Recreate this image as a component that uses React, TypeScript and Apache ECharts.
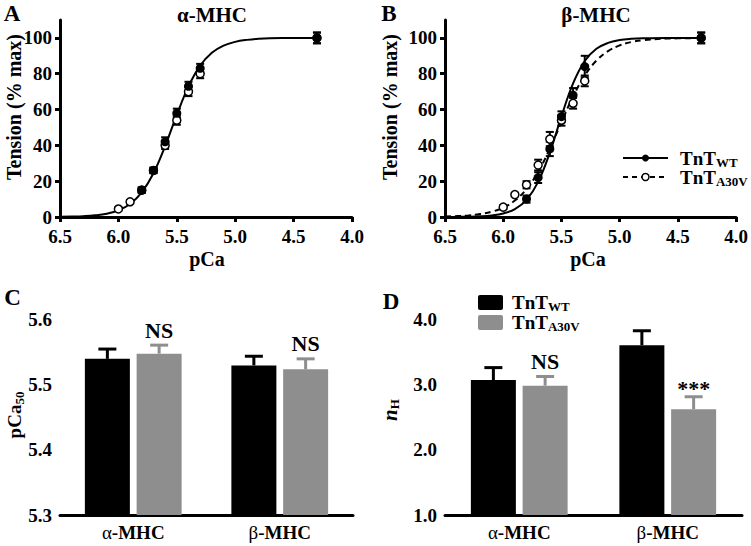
import React, { useEffect, useRef } from 'react';
import * as echarts from 'echarts';

const FONT = "'Liberation Serif', 'Times New Roman', serif";
const GRAY = '#8e8e8e';

// ---------- Panels A / B : force–pCa data ----------
const TENSION_TICKS = [0, 20, 40, 60, 80, 100];

const alphaWtPCa = [5.8, 5.7, 5.6, 5.5, 5.4, 5.3, 4.3];
const alphaWtTension = [15, 26, 42, 58, 73, 83, 100];
const alphaWtSem = [1.5, 1.5, 2.5, 2.5, 2.5, 2.5, 3];

const alphaMutPCa = [6.0, 5.9, 5.8, 5.7, 5.6, 5.5, 5.4, 5.3, 4.3];
const alphaMutTension = [4.5, 8.5, 15, 26, 40, 54, 70, 80, 100];
const alphaMutSem = [0.8, 1, 1.5, 1.5, 2, 2.5, 2.5, 2.5, 3];

const betaWtPCa = [5.8, 5.7, 5.6, 5.5, 5.4, 5.3, 4.3];
const betaWtTension = [10, 22, 38, 56, 68, 84, 100];
const betaWtSem = [2, 3, 4, 3, 4, 6, 3];

const betaMutPCa = [6.0, 5.9, 5.8, 5.7, 5.6, 5.5, 5.4, 5.3, 4.3];
const betaMutTension = [5.5, 12.5, 18, 29, 43.5, 54, 63.5, 76, 100];
const betaMutSem = [1, 1, 2, 3, 4, 3, 3, 3, 3];

// fitted curves
const curvePCa = [6.5, 6.4, 6.3, 6.2, 6.1, 6.0, 5.9, 5.8, 5.7, 5.6, 5.5, 5.4, 5.3, 5.2, 5.1, 5.0, 4.9, 4.8, 4.6, 4.3];
const alphaFit = [0.11, 0.23, 0.46, 0.93, 1.87, 3.73, 7.3, 13.7, 24.4, 39.6, 57.0, 72.9, 84.5, 91.7, 95.7, 97.8, 98.9, 99.5, 99.9, 100];
const betaWtFit = [0.03, 0.07, 0.17, 0.39, 0.88, 1.99, 4.4, 9.6, 19.6, 35.9, 56.2, 74.6, 87.1, 93.9, 97.2, 98.8, 99.5, 99.8, 100, 100];
const betaMutFit = [0.27, 0.49, 0.9, 1.63, 2.93, 5.2, 9.2, 15.6, 25.2, 38.1, 53.0, 67.3, 79.0, 87.3, 92.6, 95.8, 97.7, 98.7, 99.6, 99.9];

// ---------- Panels C / D : bar summaries ----------
const groups = ['α-MHC', 'β-MHC'];
const pCa50Wt = [5.539, 5.529];
const pCa50WtSem = [0.015, 0.014];
const pCa50Mut = [5.547, 5.523];
const pCa50MutSem = [0.013, 0.016];
const pCa50Sig = ['NS', 'NS'];

const nHWt = [3.066, 3.6];
const nHWtSem = [0.19, 0.22];
const nHMut = [2.98, 2.62];
const nHMutSem = [0.14, 0.19];
const nHSig = ['NS', '***'];

const BAR_W = 45;
const BAR_GAP = 0.15;

const axisLine = { lineStyle: { color: '#000', width: 3 } };
const axisTick = { length: 5, lineStyle: { color: '#000', width: 3 } };
const labelStyle = { color: '#000', fontSize: 19, fontWeight: 'bold' as const, fontFamily: FONT };

const pairs = (xs: number[], ys: number[]) => xs.map((x, i) => [x, ys[i]]);

function scatterErr(idx: number, xs: number[], ys: number[], es: number[]) {
  return {
    type: 'custom',
    xAxisIndex: idx,
    yAxisIndex: idx,
    z: 3,
    silent: true,
    data: xs.map((x, i) => [x, ys[i], es[i]]),
    renderItem: (params: any, api: any) => {
      const x = api.value(0);
      const y = api.value(1);
      const e = api.value(2);
      const lo = api.coord([x, y - e]);
      const hi = api.coord([x, y + e]);
      const cx = lo[0];
      const st = { stroke: '#000', lineWidth: 2 };
      return {
        type: 'group',
        children: [
          { type: 'line', shape: { x1: cx, y1: lo[1], x2: cx, y2: hi[1] }, style: st },
          { type: 'line', shape: { x1: cx - 4, y1: lo[1], x2: cx + 4, y2: lo[1] }, style: st },
          { type: 'line', shape: { x1: cx - 4, y1: hi[1], x2: cx + 4, y2: hi[1] }, style: st },
        ],
      };
    },
  };
}

function barErr(idx: number, vals: number[], sems: number[], color: string, side: number, sig?: string[]) {
  const offset = side * (BAR_W * (1 + BAR_GAP)) / 2;
  return {
    type: 'custom',
    xAxisIndex: idx,
    yAxisIndex: idx,
    z: 4,
    silent: true,
    data: vals.map((v, i) => [i, v, sems[i]]),
    renderItem: (params: any, api: any) => {
      const i = api.value(0);
      const v = api.value(1);
      const s = api.value(2);
      const base = api.coord([i, v]);
      const top = api.coord([i, v + s]);
      const x = base[0] + offset;
      const st = { stroke: color, lineWidth: 3 };
      const children: any[] = [
        { type: 'line', shape: { x1: x, y1: base[1], x2: x, y2: top[1] }, style: st },
        { type: 'line', shape: { x1: x - 9, y1: top[1], x2: x + 9, y2: top[1] }, style: st },
      ];
      const lab = sig ? sig[params.dataIndex] : '';
      if (lab) {
        const gap = lab === '***' ? -3 : 4;
        children.push({
          type: 'text',
          x,
          y: top[1] - gap,
          style: {
            text: lab,
            fill: '#000',
            fontSize: 22,
            fontWeight: 'bold',
            fontFamily: FONT,
            align: 'center',
            verticalAlign: 'bottom',
            textAlign: 'center',
            textVerticalAlign: 'bottom',
          },
        });
      }
      return { type: 'group', children };
    },
  };
}

const subRich = {
  b: { fontSize: 19, fontWeight: 'bold', fontFamily: FONT, fill: '#000', color: '#000', lineHeight: 22 },
  s: { fontSize: 13, fontWeight: 'bold', fontFamily: FONT, fill: '#000', color: '#000', lineHeight: 22, padding: [9, 0, 0, 0], verticalAlign: 'bottom' },
  i: { fontSize: 21, fontWeight: 'bold', fontStyle: 'italic', fontFamily: FONT, fill: '#000', color: '#000', lineHeight: 22 },
};

function txt(text: string, x: number, y: number, size: number, extra: any = {}) {
  return {
    type: 'text',
    x,
    y,
    silent: true,
    ...extra,
    style: {
      text,
      fill: '#000',
      fontSize: size,
      fontWeight: 'bold',
      fontFamily: FONT,
      align: 'center',
      verticalAlign: 'middle',
      textAlign: 'center',
      textVerticalAlign: 'middle',
      ...(extra.style || {}),
    },
  };
}

function richTxt(text: string, x: number, y: number, align: string, rotation = 0) {
  return {
    type: 'text',
    x,
    y,
    rotation,
    silent: true,
    style: {
      text,
      rich: subRich,
      fill: '#000',
      fontFamily: FONT,
      align,
      verticalAlign: 'middle',
      textAlign: align,
      textVerticalAlign: 'middle',
    },
  };
}

export default function App() {
  const ref = useRef<HTMLDivElement>(null);

  useEffect(() => {
    if (!ref.current) return;
    const chart = echarts.init(ref.current, null, { renderer: 'svg' });

    const valueX = (gridIndex: number) => ({
      gridIndex,
      type: 'value',
      min: 4.0,
      max: 6.5,
      interval: 0.5,
      inverse: true,
      axisLine,
      axisTick,
      splitLine: { show: false },
      axisLabel: { ...labelStyle, margin: 10, formatter: (v: number) => v.toFixed(1) },
    });
    const tensionY = (gridIndex: number) => ({
      gridIndex,
      type: 'value',
      min: 0,
      max: 110,
      axisLine: { ...axisLine, onZero: false },
      axisTick: { ...axisTick, customValues: TENSION_TICKS },
      splitLine: { show: false },
      axisLabel: { ...labelStyle, margin: 8, customValues: TENSION_TICKS },
    });
    const catX = (gridIndex: number) => ({
      gridIndex,
      type: 'category',
      data: groups,
      axisLine,
      axisTick: { ...axisTick, alignWithLabel: true, interval: 0 },
      axisLabel: {
        ...labelStyle,
        margin: 8,
        interval: 0,
        hideOverlap: false,
        formatter: (v: string) => `{g|${v[0]}}{b|${v.slice(1)}}`,
        rich: {
          g: { fontSize: 19, fontWeight: 'normal', fontFamily: FONT, color: '#000' },
          b: { fontSize: 19, fontWeight: 'bold', fontFamily: FONT, color: '#000' },
        },
      },
    });

    const curve = (idx: number, ys: number[], dashed: boolean) => ({
      type: 'line',
      xAxisIndex: idx,
      yAxisIndex: idx,
      data: pairs(curvePCa, ys),
      showSymbol: false,
      smooth: 0.4,
      silent: true,
      z: 2,
      lineStyle: { color: '#000', width: 2, type: dashed ? [6, 4] : 'solid' },
    });
    const filled = (idx: number, xs: number[], ys: number[]) => ({
      type: 'scatter',
      xAxisIndex: idx,
      yAxisIndex: idx,
      data: pairs(xs, ys),
      symbol: 'circle',
      symbolSize: 9,
      z: 6,
      silent: true,
      itemStyle: { color: '#000', opacity: 1 },
    });
    const open = (idx: number, xs: number[], ys: number[]) => ({
      type: 'scatter',
      xAxisIndex: idx,
      yAxisIndex: idx,
      data: pairs(xs, ys),
      symbol: 'circle',
      symbolSize: 8,
      z: 5,
      silent: true,
      itemStyle: { color: '#fff', borderColor: '#000', borderWidth: 1.5, opacity: 1 },
    });
    const bars = (idx: number, vals: number[], color: string) => ({
      type: 'bar',
      xAxisIndex: idx,
      yAxisIndex: idx,
      data: vals,
      barWidth: BAR_W,
      barGap: `${BAR_GAP * 100}%`,
      silent: true,
      z: 2,
      itemStyle: { color },
    });

    const option: any = {
      animation: false,
      backgroundColor: '#fff',
      textStyle: { fontFamily: FONT },
      grid: [
        { left: 60, top: 20, width: 292, height: 197 },
        { left: 445, top: 20, width: 297, height: 197 },
        { left: 60, top: 319, width: 293, height: 196 },
        { left: 445, top: 319, width: 297, height: 196 },
      ],
      xAxis: [valueX(0), valueX(1), catX(2), catX(3)],
      yAxis: [
        tensionY(0),
        tensionY(1),
        {
          gridIndex: 2,
          type: 'value',
          min: 5.3,
          max: 5.6,
          interval: 0.1,
          axisLine: { ...axisLine, onZero: false },
          axisTick,
          splitLine: { show: false },
          axisLabel: { ...labelStyle, margin: 8, formatter: (v: number) => v.toFixed(1) },
        },
        {
          gridIndex: 3,
          type: 'value',
          min: 1,
          max: 4,
          interval: 1,
          axisLine: { ...axisLine, onZero: false },
          axisTick,
          splitLine: { show: false },
          axisLabel: { ...labelStyle, margin: 8, formatter: (v: number) => v.toFixed(1) },
        },
      ],
      series: [
        // A
        curve(0, alphaFit, false),
        scatterErr(0, alphaMutPCa, alphaMutTension, alphaMutSem),
        scatterErr(0, alphaWtPCa, alphaWtTension, alphaWtSem),
        open(0, alphaMutPCa, alphaMutTension),
        filled(0, alphaWtPCa, alphaWtTension),
        // B
        curve(1, betaWtFit, false),
        curve(1, betaMutFit, true),
        scatterErr(1, betaMutPCa, betaMutTension, betaMutSem),
        scatterErr(1, betaWtPCa, betaWtTension, betaWtSem),
        open(1, betaMutPCa, betaMutTension),
        filled(1, betaWtPCa, betaWtTension),
        // C
        bars(2, pCa50Wt, '#000'),
        bars(2, pCa50Mut, GRAY),
        barErr(2, pCa50Wt, pCa50WtSem, '#000', -1),
        barErr(2, pCa50Mut, pCa50MutSem, GRAY, 1, pCa50Sig),
        // D
        bars(3, nHWt, '#000'),
        bars(3, nHMut, GRAY),
        barErr(3, nHWt, nHWtSem, '#000', -1),
        barErr(3, nHMut, nHMutSem, GRAY, 1, nHSig),
      ],
      graphic: [
        // panel letters
        txt('A', 12, 13, 23),
        txt('B', 389, 13, 23),
        txt('C', 12.5, 297, 23),
        txt('D', 391, 301, 23),
        // titles
        txt('α-MHC', 212, 15, 21),
        txt('β-MHC', 596, 15, 21),
        // axis names
        txt('Tension (% max)', 13.5, 107, 20, { rotation: Math.PI / 2 }),
        txt('Tension (% max)', 389.5, 107, 20, { rotation: Math.PI / 2 }),
        txt('pCa', 207, 259, 20),
        txt('pCa', 588, 259, 20),
        richTxt('{b|pCa}{s|50}', 14.5, 415, 'center', Math.PI / 2),
        richTxt('{i|n}{s|H}', 389.5, 410, 'center', Math.PI / 2),
        // legend B
        { type: 'line', silent: true, shape: { x1: 623, y1: 158, x2: 668, y2: 158 }, style: { stroke: '#000', lineWidth: 2 } },
        { type: 'circle', silent: true, shape: { cx: 645.5, cy: 158, r: 3.5 }, style: { fill: '#000' } },
        richTxt('{b|TnT}{s|WT}', 680, 158, 'left'),
        { type: 'line', silent: true, shape: { x1: 623, y1: 177, x2: 668, y2: 177 }, style: { stroke: '#000', lineWidth: 2, lineDash: [5, 4] } },
        { type: 'circle', silent: true, shape: { cx: 645.5, cy: 177, r: 3.5 }, style: { fill: '#fff', stroke: '#000', lineWidth: 1.5 } },
        richTxt('{b|TnT}{s|A30V}', 680, 177, 'left'),
        // legend D
        { type: 'rect', silent: true, shape: { x: 478, y: 295, width: 25, height: 15, r: 2 }, style: { fill: '#000' } },
        richTxt('{b|TnT}{s|WT}', 512, 302, 'left'),
        { type: 'rect', silent: true, shape: { x: 478, y: 315, width: 25, height: 15, r: 2 }, style: { fill: GRAY } },
        richTxt('{b|TnT}{s|A30V}', 512, 322, 'left'),
      ],
    };

    chart.setOption(option);
    return () => chart.dispose();
  }, []);

  return (
    <div
      ref={ref}
      style={{ position: 'absolute', left: 0, top: 0, width: 751, height: 546, background: '#fff' }}
    />
  );
}
